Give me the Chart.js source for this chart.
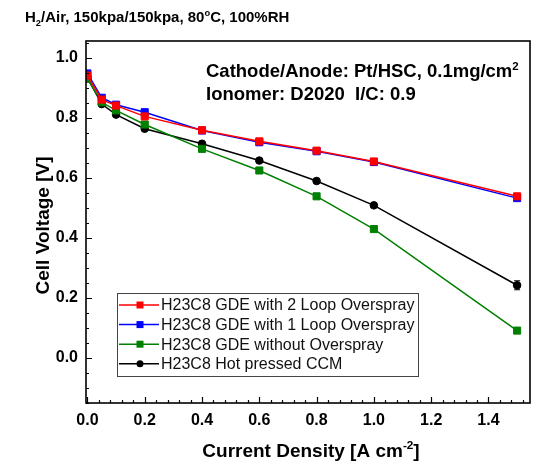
<!DOCTYPE html>
<html>
<head>
<meta charset="utf-8">
<script src="https://cdn.jsdelivr.net/npm/chart.js@4.4.0/dist/chart.umd.min.js"></script>
<style>
body { margin: 0; background: #fff; }
#wrap { width: 536px; height: 465px; }
</style>
</head>
<body>
<div id="wrap"><canvas id="graphCanvas" width="536" height="465"></canvas></div>
<script>
var currentDensity = [0, 0.05, 0.1, 0.2, 0.4, 0.6, 0.8, 1.0, 1.5];
var loop2Spray = [0.940, 0.860, 0.840, 0.804, 0.758, 0.721, 0.690, 0.654, 0.538];
var loop1Spray = [0.947, 0.866, 0.843, 0.818, 0.757, 0.718, 0.688, 0.652, 0.532];
var noSpray = [0.929, 0.851, 0.824, 0.777, 0.696, 0.624, 0.538, 0.429, 0.091];
var hotPressed = [0.932, 0.845, 0.810, 0.763, 0.713, 0.657, 0.589, 0.508, 0.242];
var hotPressedErr = [0, 0, 0, 0, 0, 0, 0, 0, 0.015];
var seriesLabels = ['H23C8 GDE with 2 Loop Overspray', 'H23C8 GDE with 1 Loop Overspray',
                    'H23C8 GDE without Overspray', 'H23C8 Hot pressed CCM'];
var xTicks = [0, 0.2, 0.4, 0.6, 0.8, 1.0, 1.2, 1.4];
var yTicks = [0, 0.2, 0.4, 0.6, 0.8, 1.0];

var FONT = '"Liberation Sans", Arial, sans-serif';

function pts(ys, errs) {
    return currentDensity.map(function (x, i) {
        return { x: x, y: ys[i], err: errs ? errs[i] : 0 };
    });
}

function ds(label, data, color, shape, r) {
    return {
        label: label, data: data,
        borderColor: color, backgroundColor: color,
        borderWidth: 1.5, pointStyle: shape, pointRadius: r,
        pointBorderWidth: 1, pointBorderColor: color, pointBackgroundColor: color,
        fill: false, tension: 0
    };
}

// text with sub/superscript pieces: [text, 0|1|-1]
function richText(ctx, parts, x, y, size, align) {
    var total = 0, w = [];
    parts.forEach(function (p) {
        ctx.font = 'bold ' + (p[1] ? size * 0.62 : size) + 'px ' + FONT;
        var m = ctx.measureText(p[0]).width;
        w.push(m); total += m;
    });
    var cx = align === 'center' ? x - total / 2 : x;
    parts.forEach(function (p, i) {
        ctx.font = 'bold ' + (p[1] ? size * 0.62 : size) + 'px ' + FONT;
        var dy = p[1] === 1 ? -size * 0.40 : (p[1] === -1 ? size * 0.25 : 0);
        ctx.fillText(p[0], cx, y + dy);
        cx += w[i];
    });
}

var decorPlugin = {
    id: 'decor',
    afterDatasetsDraw: function (chart) {
        var ctx = chart.ctx, xs = chart.scales.x, ys = chart.scales.y;
        ctx.save();
        ctx.strokeStyle = '#000';
        ctx.lineWidth = 1.2;
        chart.data.datasets.forEach(function (d) {
            d.data.forEach(function (p) {
                if (!p.err) return;
                var px = xs.getPixelForValue(p.x);
                var y1 = ys.getPixelForValue(p.y + p.err), y2 = ys.getPixelForValue(p.y - p.err);
                ctx.beginPath();
                ctx.moveTo(px, y1); ctx.lineTo(px, y2);
                ctx.moveTo(px - 3, y1); ctx.lineTo(px + 3, y1);
                ctx.moveTo(px - 3, y2); ctx.lineTo(px + 3, y2);
                ctx.stroke();
            });
        });
        ctx.restore();
    },
    afterDraw: function (chart) {
        var ctx = chart.ctx, a = chart.chartArea;
        var xs = chart.scales.x, ys = chart.scales.y;
        ctx.save();
        // frame
        ctx.strokeStyle = '#000';
        ctx.lineWidth = 1.6;
        ctx.strokeRect(a.left, a.top, a.right - a.left, a.bottom - a.top);
        // inward ticks
        ctx.lineWidth = 1.2;
        ctx.beginPath();
        var xMinor = 0.04;
        for (var i = 0; i * xMinor <= 1.545; i++) {
            var px = Math.round(xs.getPixelForValue(i * xMinor)) + 0.5;
            var len = i % 5 === 0 ? 6 : 3;
            ctx.moveTo(px, a.bottom); ctx.lineTo(px, a.bottom - len);
        }
        var yMinor = 0.05;
        for (var j = -3; j * yMinor <= 1.05; j++) {
            var py = Math.round(ys.getPixelForValue(j * yMinor)) + 0.5;
            var ylen = j % 4 === 0 ? 6 : 3;
            ctx.moveTo(a.left, py); ctx.lineTo(a.left + ylen, py);
        }
        ctx.stroke();

        // texts
        ctx.fillStyle = '#000';
        ctx.textBaseline = 'alphabetic';
        ctx.textAlign = 'left';
        richText(ctx, [['H', 0], ['2', -1], ['/Air, 150kpa/150kpa, 80', 0], ['o', 1], ['C, 100%RH', 0]], 25, 22, 15);
        richText(ctx, [['Cathode/Anode: Pt/HSC, 0.1mg/cm', 0], ['2', 1]], 206, 77, 18.5);
        richText(ctx, [['Ionomer: D2020  I/C: 0.9', 0]], 206, 100, 18.5);
        richText(ctx, [['Current Density [A cm', 0], ['-2', 1], [']', 0]], 311, 457, 19, 'center');

        ctx.save();
        ctx.translate(48.5, 225.5);
        ctx.rotate(-Math.PI / 2);
        richText(ctx, [['Cell Voltage [V]', 0]], 0, 0, 19, 'center');
        ctx.restore();

        // legend
        var lx = 117, ly = 293, lw = 301, lh = 83;
        ctx.fillStyle = '#fff';
        ctx.fillRect(lx, ly, lw, lh);
        ctx.strokeStyle = '#444';
        ctx.lineWidth = 1;
        ctx.strokeRect(lx + 0.5, ly + 0.5, lw, lh);
        chart.data.datasets.forEach(function (d, k) {
            var ry = 305 + k * 19.6;
            ctx.strokeStyle = d.borderColor;
            ctx.lineWidth = 1.5;
            ctx.beginPath();
            ctx.moveTo(119, ry); ctx.lineTo(159, ry);
            ctx.stroke();
            ctx.fillStyle = d.borderColor;
            if (d.pointStyle === 'circle') {
                ctx.beginPath(); ctx.arc(140, ry, 3.5, 0, Math.PI * 2); ctx.fill();
            } else {
                ctx.fillRect(136.5, ry - 3.5, 7, 7);
            }
            ctx.fillStyle = '#111';
            ctx.font = '16px ' + FONT;
            ctx.textBaseline = 'middle';
            ctx.fillText(d.label, 161, ry + 1);
        });
        ctx.restore();
    }
};

var chartdata = {
    datasets: [
        ds(seriesLabels[0], pts(loop2Spray), '#ff0000', 'rect', 5),
        ds(seriesLabels[1], pts(loop1Spray), '#0000ff', 'rect', 5),
        ds(seriesLabels[2], pts(noSpray), '#008000', 'rect', 5),
        ds(seriesLabels[3], pts(hotPressed, hotPressedErr), '#000000', 'circle', 3.8)
    ]
};

var graphTarget = document.getElementById('graphCanvas');

var lineGraph = new Chart(graphTarget, {
    type: 'line',
    data: chartdata,
    plugins: [decorPlugin],
    options: {
        responsive: false,
        animation: false,
        devicePixelRatio: 1,
        layout: { padding: { left: 0, top: 41, right: 1, bottom: 0 } },
        plugins: { legend: { display: false }, title: { display: false }, tooltip: { enabled: false } },
        scales: {
            x: {
                type: 'linear', min: -0.005, max: 1.545,
                afterFit: function (s) { s.height = 62; },
                afterBuildTicks: function (s) { s.ticks = xTicks.map(function (v) { return { value: v }; }); },
                grid: { display: false, drawTicks: false },
                border: { display: false },
                ticks: {
                    padding: 8, color: '#000', maxRotation: 0, autoSkip: false,
                    font: { family: FONT, size: 16, weight: 'bold' },
                    callback: function (v) { return Number(v).toFixed(1); }
                }
            },
            y: {
                type: 'linear', min: -0.15, max: 1.055,
                afterFit: function (s) { s.width = 86; },
                afterBuildTicks: function (s) { s.ticks = yTicks.map(function (v) { return { value: v }; }); },
                grid: { display: false, drawTicks: false },
                border: { display: false },
                ticks: {
                    padding: 8, color: '#000', autoSkip: false,
                    font: { family: FONT, size: 16, weight: 'bold' },
                    callback: function (v) { return Number(v).toFixed(1); }
                }
            }
        }
    }
});
</script>
</body>
</html>
